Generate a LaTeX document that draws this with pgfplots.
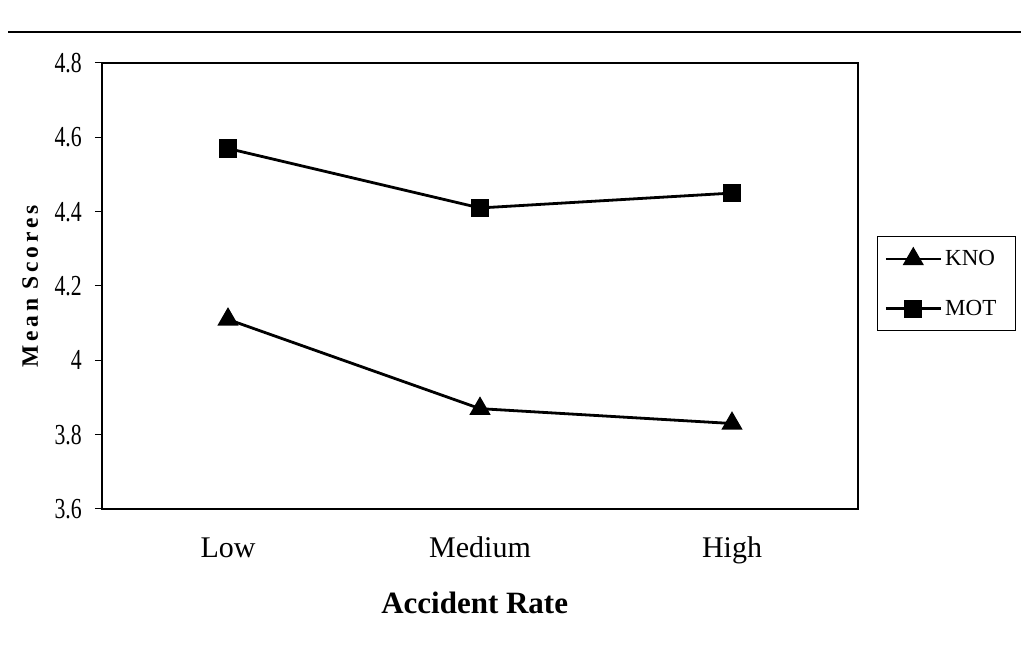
\documentclass[border=0pt]{standalone}
\usepackage{fontspec}
\setmainfont{Liberation Serif}
\newfontfamily\narrowfont[FakeStretch=0.75]{Liberation Serif}
\newfontfamily\spacedfont[LetterSpace=16]{Liberation Serif}
\usepackage{pgfplots}
\pgfplotsset{compat=1.18}

\begin{document}
\begin{tikzpicture}
\useasboundingbox (0pt,0pt) rectangle (1021pt,645pt);
% rule above the figure
\draw[line width=1.8pt] (8pt,613pt) -- (1021pt,613pt);
\begin{axis}[
  at={(102pt,136pt)}, anchor=south west,
  scale only axis, width=756pt, height=446pt,
  axis line style={line width=1.6pt},
  xmin=-0.5, xmax=2.5, ymin=3.6, ymax=4.8,
  xtick={0,1,2}, xticklabels={Low,Medium,High},
  xtick style={draw=none},
  minor xtick={-0.5,0.5,1.5,2.5},
  minor tick length=9pt,
  ytick={3.6,3.8,4,4.2,4.4,4.6,4.8},
  major tick length=7pt,
  tick align=outside,
  tick style={line width=1pt, black},
  xtick pos=bottom, ytick pos=left,
  /pgf/number format/assume math mode=true,
  yticklabel={\narrowfont\pgfmathprintnumber{\tick}},
  yticklabel style={font=\fontsize{29}{32}\selectfont, anchor=east, inner sep=0pt, xshift=-13pt},
  xticklabel style={font=\fontsize{30}{33}\selectfont, anchor=base, inner sep=0pt, yshift=-42pt},
  xlabel={Accident Rate},
  xlabel style={font=\fontsize{31}{34}\selectfont\bfseries, at={(rel axis cs:0.493,-0.2354)}, anchor=base, inner sep=0pt},
  ylabel={Mean Scores},
  ylabel style={font=\fontsize{23.5}{26}\selectfont\spacedfont\bfseries, at={(rel axis cs:-0.095,0.499)}, anchor=center, rotate=0},
  legend style={at={(rel axis cs:1.025,0.6121)}, anchor=north west,
    draw=black, line width=1pt, font=\fontsize{23}{26}\selectfont,
    inner xsep=7pt, inner ysep=13pt, row sep=33pt,
    nodes={inner xsep=3pt, inner ysep=0pt}, cells={anchor=west}},
  legend image code/.code={%
    \draw[mark repeat=2, mark phase=2, #1] plot coordinates {(0pt,0pt) (27.5pt,0pt) (55pt,0pt)};},
  every axis plot/.append style={black, line width=2.8pt, mark options={solid}},
]
\addplot[mark=triangle*, mark size=9.5pt] coordinates {(0,4.11) (1,3.87) (2,3.83)};
\addlegendentry{\makebox[60pt][l]{KNO}}
\addplot[mark=square*, mark size=7.8pt] coordinates {(0,4.57) (1,4.41) (2,4.45)};
\addlegendentry{\makebox[60pt][l]{MOT}}
\end{axis}
\end{tikzpicture}
\end{document}
